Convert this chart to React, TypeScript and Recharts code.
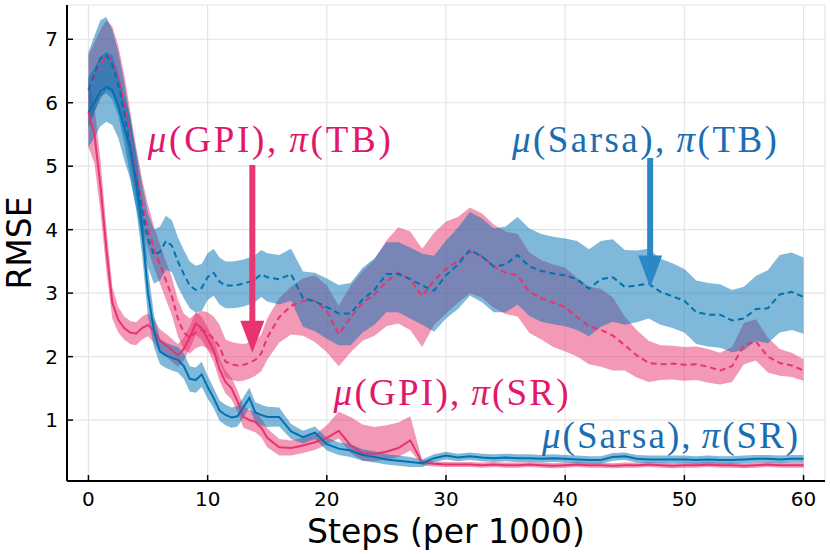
import React from 'react';
import {
  ComposedChart,
  Area,
  Line,
  XAxis,
  YAxis,
  CartesianGrid,
  ReferenceLine,
  ReferenceDot,
} from 'recharts';

// x positions (steps per 1000)
const steps = [
  0, 0.5, 1, 1.5, 2, 2.5, 3, 3.5, 4, 4.5, 5, 5.5, 6, 6.5, 7, 7.5, 8, 8.5, 9, 9.5,
  10, 10.5, 11, 11.5, 12, 12.5, 13, 13.5, 14, 14.5, 15,
  16, 17, 18, 19, 20, 21, 22, 23, 24, 25, 26, 27, 28, 29, 30, 31, 32, 33, 34, 35,
  36, 37, 38, 39, 40, 41, 42, 43, 44, 45, 46, 47, 48, 49, 50, 51, 52, 53, 54, 55,
  56, 57, 58, 59, 60,
];

const xTicks = [0, 10, 20, 30, 40, 50, 60];
const yTicks = [1, 2, 3, 4, 5, 6, 7];

// mu(GPI), pi(SR) — pink solid
const gpiSR = [
  5.85, 5.5, 4.7, 3.7, 2.85, 2.58, 2.45, 2.38, 2.36, 2.45,
  2.5, 2.4, 2.25, 2.18, 2.1, 2.02, 2.12, 2.3, 2.52, 2.45,
  2.28, 2.1, 1.8, 1.6, 1.5, 1.3, 1.05, 1.0, 0.97, 0.88,
  0.72,
  0.57, 0.56, 0.6, 0.65, 0.72, 0.83, 0.6, 0.48, 0.47, 0.5,
  0.56, 0.68, 0.33, 0.31, 0.3, 0.3, 0.3, 0.29, 0.3, 0.29,
  0.29, 0.3, 0.29, 0.28, 0.29, 0.3, 0.29, 0.29, 0.28, 0.29,
  0.29, 0.3, 0.29, 0.28, 0.29, 0.29, 0.3, 0.29, 0.29, 0.28,
  0.29, 0.3, 0.29, 0.29, 0.29,
];
const gpiSRUp = [
  0.55, 0.45, 0.4, 0.35, 0.25, 0.2, 0.18, 0.18, 0.18, 0.18,
  0.18, 0.18, 0.18, 0.18, 0.18, 0.18, 0.18, 0.18, 0.18, 0.18,
  0.18, 0.18, 0.18, 0.18, 0.17, 0.17, 0.17, 0.16, 0.16, 0.15,
  0.15,
  0.13, 0.12, 0.12, 0.12, 0.2, 0.3, 0.45, 0.45, 0.42, 0.42,
  0.4, 0.38, 0.04, 0.04, 0.04, 0.04, 0.04, 0.04, 0.04, 0.04,
  0.04, 0.04, 0.04, 0.04, 0.04, 0.04, 0.04, 0.04, 0.04, 0.04,
  0.04, 0.04, 0.04, 0.04, 0.04, 0.04, 0.04, 0.04, 0.04, 0.04,
  0.04, 0.04, 0.04, 0.04, 0.04,
];
const gpiSRDown = [
  0.55, 0.45, 0.4, 0.35, 0.25, 0.2, 0.18, 0.18, 0.18, 0.18,
  0.18, 0.18, 0.18, 0.18, 0.18, 0.18, 0.18, 0.18, 0.18, 0.18,
  0.18, 0.18, 0.18, 0.18, 0.17, 0.17, 0.17, 0.16, 0.16, 0.15,
  0.15,
  0.13, 0.12, 0.12, 0.12, 0.1, 0.12, 0.12, 0.12, 0.12, 0.12,
  0.14, 0.16, 0.04, 0.04, 0.04, 0.04, 0.04, 0.04, 0.04, 0.04,
  0.04, 0.04, 0.04, 0.04, 0.04, 0.04, 0.04, 0.04, 0.04, 0.04,
  0.04, 0.04, 0.04, 0.04, 0.04, 0.04, 0.04, 0.04, 0.04, 0.04,
  0.04, 0.04, 0.04, 0.04, 0.04,
];

// mu(GPI), pi(TB) — pink dashed
const gpiTB = [
  6.2, 6.4, 6.6, 6.75, 6.65, 6.4, 6.0, 5.45, 4.9, 4.4,
  4.0, 3.7, 3.45, 3.2, 2.95, 2.6, 2.38, 2.3, 2.38, 2.42,
  2.38, 2.28, 2.15, 1.92, 1.88, 1.86, 1.87, 1.9, 1.95, 2.05,
  2.3,
  2.62, 2.8, 2.88, 2.88, 2.72, 2.35, 2.62, 2.85, 2.98, 3.18,
  3.32, 3.22, 2.95, 3.2, 3.38, 3.5, 3.65, 3.58, 3.42, 3.32,
  3.28, 3.02, 2.92, 2.85, 2.78, 2.62, 2.48, 2.42, 2.33, 2.18,
  2.02, 1.9, 1.88, 1.89, 1.87, 1.88, 1.84, 1.78, 1.85, 2.18,
  2.24, 2.0, 1.9, 1.86, 1.78,
];
const gpiTBUp = [
  0.55, 0.55, 0.55, 0.55, 0.55, 0.5, 0.45, 0.42, 0.4, 0.4,
  0.38, 0.35, 0.32, 0.3, 0.3, 0.3, 0.3, 0.3, 0.3, 0.3,
  0.32, 0.35, 0.35, 0.35, 0.35, 0.35, 0.33, 0.32, 0.3, 0.3,
  0.3,
  0.3, 0.3, 0.35, 0.4, 0.4, 0.45, 0.5, 0.5, 0.55, 0.65,
  0.72, 0.75, 0.75, 0.75, 0.75, 0.7, 0.7, 0.68, 0.66, 0.65,
  0.65, 0.62, 0.6, 0.6, 0.62, 0.62, 0.62, 0.65, 0.6, 0.45,
  0.4, 0.35, 0.3, 0.28, 0.28, 0.28, 0.28, 0.28, 0.3, 0.35,
  0.35, 0.3, 0.22, 0.2, 0.18,
];
const gpiTBDown = [
  0.55, 0.55, 0.55, 0.55, 0.5, 0.45, 0.42, 0.4, 0.38, 0.35,
  0.32, 0.3, 0.3, 0.3, 0.3, 0.28, 0.26, 0.25, 0.25, 0.25,
  0.25, 0.25, 0.25, 0.25, 0.25, 0.25, 0.25, 0.25, 0.25, 0.28,
  0.35,
  0.4, 0.45, 0.55, 0.65, 0.65, 0.5, 0.55, 0.6, 0.65, 0.7,
  0.8, 0.8, 0.8, 0.7, 0.7, 0.65, 0.65, 0.65, 0.65, 0.65,
  0.65, 0.65, 0.65, 0.7, 0.7, 0.62, 0.6, 0.58, 0.55, 0.4,
  0.35, 0.3, 0.25, 0.25, 0.25, 0.25, 0.25, 0.22, 0.25, 0.3,
  0.3, 0.25, 0.2, 0.18, 0.16,
];

// mu(Sarsa), pi(SR) — blue solid
const sarsaSR = [
  5.85, 6.0, 6.18, 6.25, 6.2, 5.95, 5.6, 5.3, 4.75, 4.0,
  3.0, 2.4, 2.08, 2.02, 1.98, 1.95, 1.85, 1.65, 1.63, 1.72,
  1.52, 1.35, 1.15, 1.08, 1.04, 1.06, 1.2, 1.35, 1.12, 1.08,
  1.05,
  1.05, 0.82, 0.73, 0.8, 0.62, 0.55, 0.52, 0.45, 0.42, 0.38,
  0.36, 0.34, 0.32, 0.4, 0.44, 0.41, 0.43, 0.41, 0.4, 0.41,
  0.4, 0.4, 0.39, 0.4, 0.39, 0.38, 0.37, 0.37, 0.42, 0.43,
  0.39, 0.38, 0.38, 0.38, 0.38, 0.37, 0.38, 0.37, 0.37, 0.38,
  0.39, 0.39, 0.38, 0.39, 0.39,
];
const sarsaSRSpread = [
  0.55, 0.55, 0.55, 0.55, 0.55, 0.5, 0.5, 0.5, 0.42, 0.4,
  0.38, 0.25, 0.2, 0.2, 0.2, 0.2, 0.2, 0.2, 0.2, 0.2,
  0.18, 0.16, 0.16, 0.16, 0.16, 0.16, 0.16, 0.16, 0.16, 0.16,
  0.16,
  0.15, 0.12, 0.1, 0.1, 0.1, 0.1, 0.1, 0.09, 0.09, 0.08,
  0.08, 0.08, 0.06, 0.06, 0.06, 0.06, 0.06, 0.06, 0.06, 0.06,
  0.06, 0.06, 0.06, 0.06, 0.06, 0.06, 0.06, 0.06, 0.06, 0.06,
  0.06, 0.06, 0.06, 0.06, 0.06, 0.06, 0.06, 0.06, 0.06, 0.06,
  0.06, 0.06, 0.06, 0.06, 0.06,
];

// mu(Sarsa), pi(TB) — blue dashed
const sarsaTB = [
  6.2, 6.45, 6.7, 6.75, 6.6, 6.3, 5.85, 5.3, 4.8, 4.3,
  3.85, 3.6, 3.65, 3.82, 3.75, 3.5, 3.3, 3.12, 3.05, 3.08,
  3.25, 3.32, 3.18, 3.12, 3.12, 3.13, 3.15, 3.18, 3.22, 3.3,
  3.25,
  3.22, 3.3, 2.92, 2.87, 2.78, 2.68, 2.68, 2.9, 3.05, 3.3,
  3.3, 3.22, 3.12, 3.04, 3.28, 3.45, 3.68, 3.58, 3.42, 3.45,
  3.6, 3.42, 3.35, 3.31, 3.28, 3.22, 3.07, 3.22, 3.25, 3.1,
  3.12, 3.15, 3.02, 2.95, 2.88, 2.7, 2.66, 2.66, 2.57, 2.6,
  2.75, 2.76, 2.98, 3.02, 2.94,
];
const sarsaTBUp = [
  0.6, 0.6, 0.6, 0.6, 0.55, 0.5, 0.48, 0.45, 0.45, 0.42,
  0.4, 0.4, 0.4, 0.4, 0.4, 0.38, 0.38, 0.38, 0.38, 0.38,
  0.38, 0.38, 0.38, 0.38, 0.38, 0.38, 0.38, 0.38, 0.38, 0.38,
  0.38,
  0.38, 0.4, 0.42, 0.45, 0.45, 0.45, 0.48, 0.5, 0.5, 0.5,
  0.5, 0.5, 0.5, 0.55, 0.55, 0.58, 0.6, 0.6, 0.6, 0.6,
  0.6, 0.6, 0.58, 0.58, 0.58, 0.6, 0.62, 0.6, 0.6, 0.58,
  0.55, 0.55, 0.52, 0.52, 0.5, 0.5, 0.5, 0.48, 0.48, 0.5,
  0.52, 0.6, 0.62, 0.62, 0.62,
];
const sarsaTBDown = [
  0.6, 0.6, 0.6, 0.6, 0.55, 0.5, 0.48, 0.45, 0.45, 0.45,
  0.45, 0.45, 0.45, 0.45, 0.42, 0.4, 0.38, 0.36, 0.36, 0.36,
  0.36, 0.36, 0.36, 0.36, 0.36, 0.36, 0.36, 0.36, 0.36, 0.36,
  0.38,
  0.4, 0.42, 0.45, 0.47, 0.5, 0.5, 0.5, 0.52, 0.55, 0.6,
  0.6, 0.62, 0.62, 0.65, 0.68, 0.7, 0.72, 0.72, 0.72, 0.75,
  0.78, 0.78, 0.8, 0.8, 0.8, 0.8, 0.75, 0.75, 0.7, 0.6,
  0.58, 0.55, 0.52, 0.5, 0.5, 0.5, 0.5, 0.52, 0.5, 0.5,
  0.5, 0.55, 0.6, 0.6, 0.58,
];

const PINK = '#E8336E';
const BLUE = '#0072B2';
const PINK_TEXT = '#E2176B';
const BLUE_TEXT = '#1B6DB3';

const data = steps.map((x, i) => ({
  x,
  gpiSR: gpiSR[i],
  gpiSRBand: [gpiSR[i] - gpiSRDown[i], gpiSR[i] + gpiSRUp[i]],
  gpiTB: gpiTB[i],
  gpiTBBand: [gpiTB[i] - gpiTBDown[i], gpiTB[i] + gpiTBUp[i]],
  sarsaSR: sarsaSR[i],
  sarsaSRBand: [sarsaSR[i] - sarsaSRSpread[i], sarsaSR[i] + sarsaSRSpread[i]],
  sarsaTB: sarsaTB[i],
  sarsaTBBand: [sarsaTB[i] - sarsaTBDown[i], sarsaTB[i] + sarsaTBUp[i]],
}));

const MathText = (props: any) => {
  const { cx, cy, color, agent, policy, w } = props;
  return (
    <text
      x={cx}
      y={cy}
      textAnchor="middle"
      fill={color}
      fontFamily="'Liberation Serif', 'DejaVu Serif', serif"
      fontSize={37}
      textLength={w}
      lengthAdjust="spacing"
    >
      <tspan fontStyle="italic">μ</tspan>
      <tspan>{`(${agent}),\u2009`}</tspan>
      <tspan fontStyle="italic">π</tspan>
      <tspan>{`(${policy})`}</tspan>
    </text>
  );
};

const ArrowHead = (props: any) => {
  const { cx, cy, color } = props;
  return (
    <polygon
      points={`${cx - 12},${cy - 32} ${cx + 12},${cy - 32} ${cx},${cy}`}
      fill={color}
    />
  );
};

const YLabel = (props: any) => {
  const vb = props.viewBox || { x: 0, y: 5, width: 67, height: 476 };
  const cy = vb.y + vb.height / 2;
  return (
    <text
      x={0}
      y={0}
      transform={`translate(19, ${cy}) rotate(-90)`}
      textAnchor="middle"
      dominantBaseline="central"
      fontSize={33}
      fill="#000"
      fontFamily="'DejaVu Sans', sans-serif"
    >
      RMSE
    </text>
  );
};

export default function App() {
  return (
    <div style={{ position: 'absolute', left: 0, top: 0, width: 830, height: 554, background: '#fff' }}>
      <ComposedChart
        width={830}
        height={554}
        data={data}
        margin={{ top: 5, right: 5, bottom: 0, left: 0 }}
        style={{ fontFamily: "'DejaVu Sans', sans-serif" }}
      >
        <CartesianGrid stroke="#e4e4e4" strokeWidth={1.2} />
        <XAxis
          dataKey="x"
          type="number"
          domain={[-1.8, 61.8]}
          ticks={xTicks}
          allowDataOverflow
          height={73}
          tickSize={-6}
          tickMargin={17}
          axisLine={{ stroke: '#000', strokeWidth: 2 }}
          tickLine={{ stroke: '#000', strokeWidth: 1.5 }}
          tick={{ fontSize: 20, fill: '#000' }}
          label={{
            value: 'Steps (per 1000)',
            position: 'insideBottom',
            offset: 11,
            style: { fontSize: 33, fill: '#000' },
          }}
        />
        <YAxis
          type="number"
          domain={[0.04, 7.54]}
          ticks={yTicks}
          allowDataOverflow
          width={67}
          tickSize={-6}
          tickMargin={15}
          axisLine={{ stroke: '#000', strokeWidth: 2 }}
          tickLine={{ stroke: '#000', strokeWidth: 1.5 }}
          tick={{ fontSize: 20, fill: '#000' }}
          label={YLabel}
        />

        <Area dataKey="gpiSRBand" type="linear" stroke="none" fill={PINK} fillOpacity={0.5} isAnimationActive={false} activeDot={false} dot={false} />
        <Line dataKey="gpiSR" type="linear" stroke={PINK} strokeWidth={2} dot={false} activeDot={false} isAnimationActive={false} />

        <Area dataKey="gpiTBBand" type="linear" stroke="none" fill={PINK} fillOpacity={0.5} isAnimationActive={false} activeDot={false} dot={false} />
        <Line dataKey="gpiTB" type="linear" stroke={PINK} strokeWidth={2} strokeDasharray="6 4" dot={false} activeDot={false} isAnimationActive={false} />

        <Area dataKey="sarsaSRBand" type="linear" stroke="none" fill={BLUE} fillOpacity={0.5} isAnimationActive={false} activeDot={false} dot={false} />
        <Line dataKey="sarsaSR" type="linear" stroke={BLUE} strokeWidth={2} dot={false} activeDot={false} isAnimationActive={false} />

        <Area dataKey="sarsaTBBand" type="linear" stroke="none" fill={BLUE} fillOpacity={0.5} isAnimationActive={false} activeDot={false} dot={false} />
        <Line dataKey="sarsaTB" type="linear" stroke={BLUE} strokeWidth={2} strokeDasharray="6 4" dot={false} activeDot={false} isAnimationActive={false} />

        {/* arrows */}
        <ReferenceLine segment={[{ x: 13.75, y: 5.02 }, { x: 13.75, y: 2.5 }]} stroke={PINK} strokeWidth={6} strokeOpacity={0.97} />
        <ReferenceDot x={13.75} y={2.06} r={1} shape={(p: any) => <ArrowHead {...p} color={PINK} />} />
        <ReferenceLine segment={[{ x: 47.13, y: 5.13 }, { x: 47.13, y: 3.55 }]} stroke="#2A88C4" strokeWidth={6} />
        <ReferenceDot x={47.13} y={3.09} r={1} shape={(p: any) => <ArrowHead {...p} color="#2A88C4" />} />

        {/* annotations */}
        <ReferenceDot x={15.17} y={5.22} r={1} shape={(p: any) => <MathText {...p} color={PINK_TEXT} agent="GPI" policy="TB" w={243} />} />
        <ReferenceDot x={46.65} y={5.22} r={1} shape={(p: any) => <MathText {...p} color={BLUE_TEXT} agent="Sarsa" policy="TB" w={265} />} />
        <ReferenceDot x={30.43} y={1.245} r={1} shape={(p: any) => <MathText {...p} color={PINK_TEXT} agent="GPI" policy="SR" w={235} />} />
        <ReferenceDot x={48.8} y={0.565} r={1} shape={(p: any) => <MathText {...p} color={BLUE_TEXT} agent="Sarsa" policy="SR" w={256} />} />
      </ComposedChart>
    </div>
  );
}
